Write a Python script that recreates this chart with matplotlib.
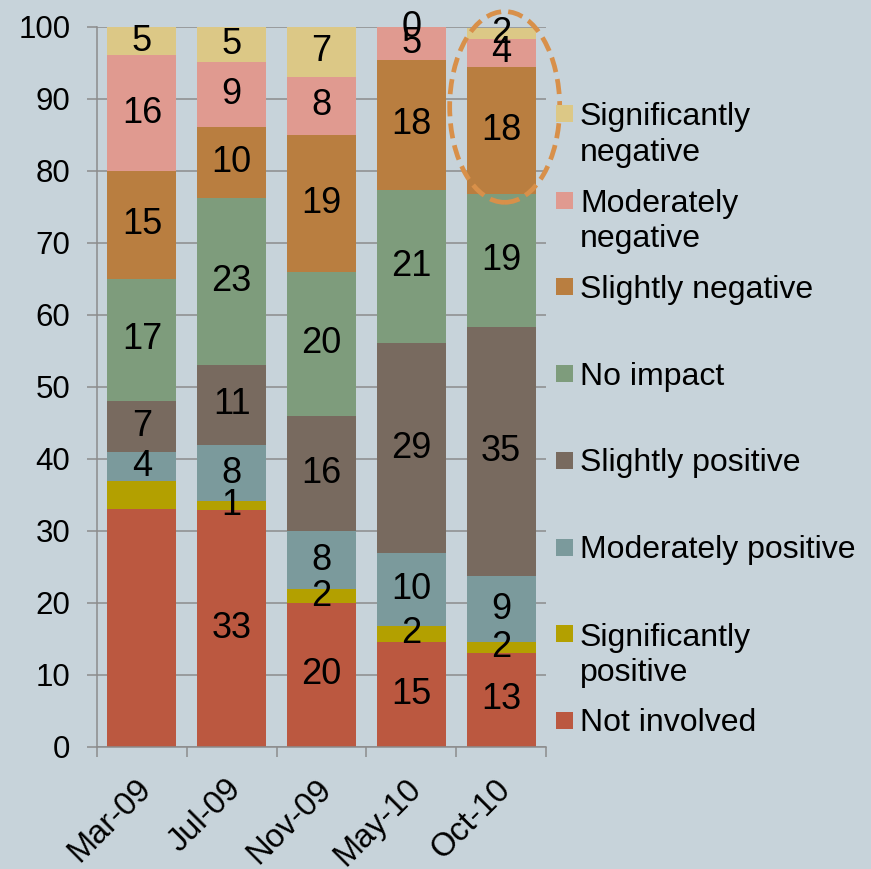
import numpy as np
import matplotlib.pyplot as plt
import matplotlib.transforms as mtransforms
from matplotlib.patches import Ellipse, Rectangle

plt.rcParams['font.family'] = ['Liberation Sans', 'DejaVu Sans']

categories = ["Mar-09", "Jul-09", "Nov-09", "May-10", "Oct-10"]

# segment heights (bottom to top)
not_involved = [33.0, 32.9, 20.0, 14.6, 13.1]
sig_pos = [3.9, 1.2, 1.9, 2.2, 1.5]
mod_pos = [4.1, 7.9, 8.1, 10.1, 9.1]
slight_pos = [7.1, 11.1, 16.0, 29.2, 34.6]
no_impact = [16.9, 23.1, 20.0, 21.3, 18.5]
slight_neg = [15.0, 9.9, 19.0, 18.0, 17.7]
mod_neg = [16.1, 9.0, 8.1, 4.6, 3.9]
sig_neg = [3.9, 5.0, 6.9, 0.0, 1.5]

# printed labels (None = no label shown)
not_involved_lbl = [None, 33, 20, 15, 13]
sig_pos_lbl = [None, 1, 2, 2, 2]
mod_pos_lbl = [4, 8, 8, 10, 9]
slight_pos_lbl = [7, 11, 16, 29, 35]
no_impact_lbl = [17, 23, 20, 21, 19]
slight_neg_lbl = [15, 10, 19, 18, 18]
mod_neg_lbl = [16, 9, 8, 5, 4]
sig_neg_lbl = [5, 5, 7, 0, 2]

series = [
    ("Not involved", not_involved, not_involved_lbl, "#BB5840"),
    ("Significantly\npositive", sig_pos, sig_pos_lbl, "#B3A000"),
    ("Moderately positive", mod_pos, mod_pos_lbl, "#7B9A9C"),
    ("Slightly positive", slight_pos, slight_pos_lbl, "#786A5F"),
    ("No impact", no_impact, no_impact_lbl, "#7E9C7C"),
    ("Slightly negative", slight_neg, slight_neg_lbl, "#B97E40"),
    ("Moderately\nnegative", mod_neg, mod_neg_lbl, "#E09A90"),
    ("Significantly\nnegative", sig_neg, sig_neg_lbl, "#DCC886"),
]

BG = "#C7D3DA"
GRID = "#8C8C8C"
W, H = 871, 869

fig = plt.figure(figsize=(W / 100, H / 100), dpi=100)
fig.patch.set_facecolor(BG)
ax = fig.add_axes([97 / W, 1 - 747 / H, (546 - 97) / W, 720 / H])
ax.set_facecolor(BG)

x = np.arange(len(categories))
bottom = np.zeros(len(categories))
for name, vals, lbls, color in series:
    bars = ax.bar(x, vals, 0.77, bottom=bottom, color=color, linewidth=0, zorder=2)
    ax.bar_label(bars, labels=["" if v is None else str(v) for v in lbls],
                 label_type="center", fontsize=26, color="black", zorder=5)
    bottom += np.array(vals)

# highlight ring around the latest top segments
ring = Ellipse((4.04, 88.9), 1.225, 26.5, fill=False, edgecolor="#D8904A",
               linewidth=3.4, linestyle=(0, (3.2, 1.5)), zorder=4, clip_on=False)
ax.add_patch(ring)

ax.set_xlim(-0.5, 4.5)
ax.set_ylim(0, 100)
ax.set_yticks(range(0, 101, 10))
ax.yaxis.grid(True, color=GRID, linewidth=1.1, zorder=0)
ax.set_axisbelow(True)

for side in ["top", "right"]:
    ax.spines[side].set_visible(False)
for side in ["left", "bottom"]:
    ax.spines[side].set_color(GRID)
    ax.spines[side].set_linewidth(1.1)

ax.tick_params(axis="y", length=7.2, width=1.1, color=GRID, labelsize=22.5, pad=12)
ax.set_xticks(x)
ax.set_xticklabels(categories, rotation=45, ha="right", rotation_mode="anchor")
ax.set_xticks(np.arange(-0.5, 5, 1), minor=True)
ax.tick_params(axis="x", which="major", length=0, labelsize=23.5, pad=19)
ax.tick_params(axis="x", which="minor", length=7.2, width=1.1, color=GRID)
shift = mtransforms.ScaledTranslation(-6 / 100, 0, fig.dpi_scale_trans)
for lab in ax.get_xticklabels():
    lab.set_transform(lab.get_transform() + shift)

# legend, top entry first, evenly spaced rows; handle sits on the first line
line_gap = 36
for i, (name, vals, lbls, color) in enumerate(series[::-1]):
    yc = 113.5 + i * 86.7
    fig.patches.append(Rectangle((556 / W, 1 - (yc + 8.5) / H), 17 / W, 17 / H,
                                 transform=fig.transFigure, facecolor=color,
                                 edgecolor="none"))
    nlines = name.count("\n") + 1
    fig.text(580 / W, 1 - (yc + 11 + (nlines - 1) * line_gap) / H, name,
             fontsize=23, va="baseline", ha="left", linespacing=1.22)

fig.savefig("out.png", dpi=100, facecolor=BG)
